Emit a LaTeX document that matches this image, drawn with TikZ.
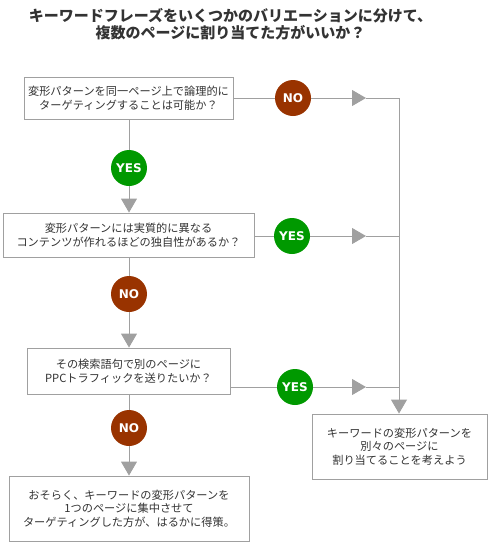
\documentclass[tikz,border=0pt]{standalone}
\usepackage{fontspec}
\newfontfamily\jp{Noto Sans CJK JP}
\newfontfamily\lab{DejaVu Sans}
\usetikzlibrary{arrows.meta}
\definecolor{noc}{HTML}{993300}
\definecolor{yesc}{HTML}{009900}
\definecolor{ln}{HTML}{A0A0A0}
\definecolor{txt}{HTML}{333333}
\tikzset{
  box/.style={draw=ln, line width=0.9pt, fill=white, align=center, text=txt,
    font=\jp\fontsize{11.2}{13.5}\selectfont, inner sep=0pt},
  circ/.style={circle, minimum size=36pt, inner sep=0pt, text=white,
    font=\lab\bfseries\fontsize{12}{14}\selectfont},
  nobub/.style={circ, fill=noc},
  yesbub/.style={circ, fill=yesc},
  conn/.style={draw=ln, line width=0.9pt},
  arr/.style={conn, -{Triangle[length=14pt,width=16pt,fill=ln,color=ln]}},
}
\begin{document}
\begin{tikzpicture}[x=1pt,y=-1pt]
\useasboundingbox (0,0) rectangle (490,552);
\node[text=txt, align=center, font=\jp\bfseries\fontsize{15}{17}\selectfont] (title) at (230.5,24.5)
  {キーワードフレーズをいくつかのバリエーションに分けて、\\複数のページに割り当てた方がいいか？};

\node[box, minimum width=209pt, minimum height=42pt] (b1) at (128.5,98)
  {変形パターンを同一ページ上で論理的に\\ターゲティングすることは可能か？};
\node[box, minimum width=251pt, minimum height=44pt] (b2) at (128.5,235)
  {変形パターンには実質的に異なる\\コンテンツが作れるほどの独自性があるか？};
\node[box, minimum width=203pt, minimum height=46pt] (b3) at (128.5,371)
  {その検索語句で別のページに\\PPCトラフィックを送りたいか？};
\node[box, minimum width=240pt, minimum height=65pt] (b4) at (129,508.5)
  {おそらく、キーワードの変形パターンを\\1つのページに集中させて\\ターゲティングした方が、はるかに得策。};
\node[box, minimum width=175pt, minimum height=65pt] (b5) at (399.5,446.5)
  {キーワードの変形パターンを\\別々のページに\\割り当てることを考えよう};

\node[nobub] (no1) at (293,98) {NO};
\node[yesbub] (yes1) at (129,168) {YES};
\node[yesbub] (yes2) at (292,236) {YES};
\node[nobub] (no2) at (129,294) {NO};
\node[yesbub] (yes3) at (295,387) {YES};
\node[nobub] (no3) at (129,428) {NO};

\coordinate (a1) at (366,98);
\coordinate (a2) at (366,236);
\coordinate (a3) at (366,387);
\coordinate (t1) at (399,98);
\coordinate (t2) at (399,236);
\coordinate (t3) at (399,387);

% right branch
\draw[conn] (b1.east) -- (no1);
\draw[arr] (no1) -- (a1);
\draw[conn] (a1) -- (t1);
\draw[conn] (b2.east |- yes2) -- (yes2);
\draw[arr] (yes2) -- (a2);
\draw[conn] (a2) -- (t2);
\draw[conn] (b3.east |- yes3) -- (yes3);
\draw[arr] (yes3) -- (a3);
\draw[conn] (a3) -- (t3);
\draw[arr] (t1) -- (b5.north -| t1);

% down branch
\draw[conn] (b1.south -| yes1) -- (yes1);
\draw[arr] (yes1) -- (b2.north -| yes1);
\draw[conn] (b2.south -| no2) -- (no2);
\draw[arr] (no2) -- (b3.north -| no2);
\draw[conn] (b3.south -| no3) -- (no3);
\draw[arr] (no3) -- (b4.north -| no3);
\end{tikzpicture}
\end{document}
